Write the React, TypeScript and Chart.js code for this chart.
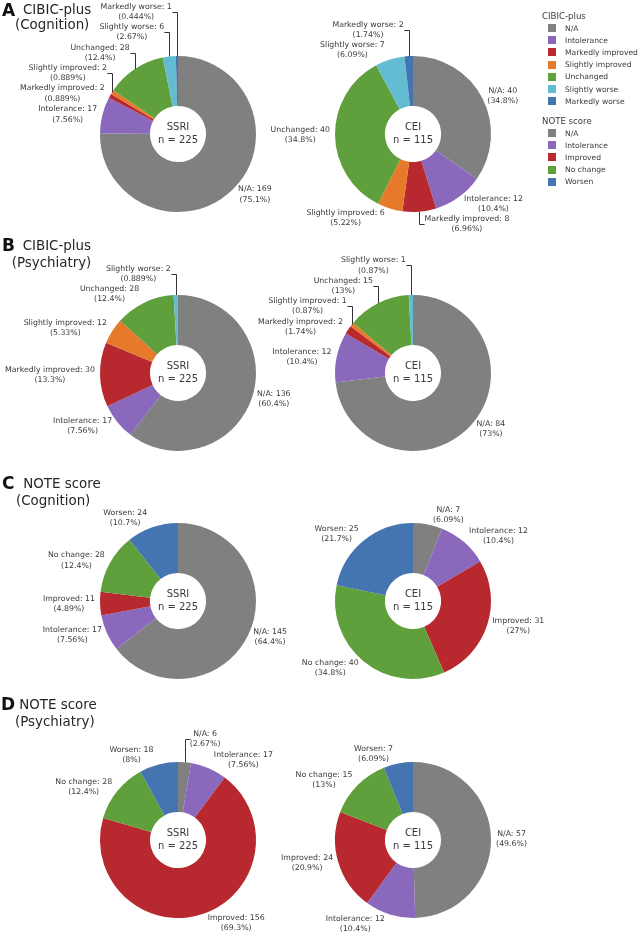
import React, { useEffect, useRef } from "react";
import { Chart, registerables } from "chart.js";

Chart.register(...registerables);

// ---------------- data ----------------
const cibicCategories = ["N/A", "Intolerance", "Markedly improved", "Slightly improved", "Unchanged", "Slightly worse", "Markedly worse"];
const noteCategories = ["N/A", "Intolerance", "Improved", "No change", "Worsen"];

const cibicColors = ["#808080", "#8a68bb", "#b8292f", "#e7792a", "#5f9f3c", "#63bdd2", "#4575b1"];
const noteColors = ["#808080", "#8a68bb", "#b8292f", "#5f9f3c", "#4575b1"];

const cibicCognitionSSRI = [169, 17, 2, 2, 28, 6, 1];
const cibicCognitionCEI = [40, 12, 8, 6, 40, 7, 2];
const cibicPsychiatrySSRI = [136, 17, 30, 12, 28, 2, 0];
const cibicPsychiatryCEI = [84, 12, 2, 1, 15, 1, 0];
const noteCognitionSSRI = [145, 17, 11, 28, 24];
const noteCognitionCEI = [7, 12, 31, 40, 25];
const notePsychiatrySSRI = [6, 17, 156, 28, 18];
const notePsychiatryCEI = [57, 12, 24, 15, 7];

const groupNames = ["SSRI", "CEI"];
const groupN = [225, 115];

const panelLetters = ["A", "B", "C", "D"];
const panelTitles = ["CIBIC-plus", "CIBIC-plus", "NOTE score", "NOTE score"];
const panelSubtitles = ["(Cognition)", "(Psychiatry)", "(Cognition)", "(Psychiatry)"];

const legendGroups = ["CIBIC-plus", "NOTE score"];

// ---------------- layout ----------------
const FONT = '"DejaVu Sans", Verdana, sans-serif';
const RADIUS = 78;
const CW = 356;
const CH = 262;
const CX = 178; // chart centre inside canvas
const CY = 132;
const colCenters = [178, 413];
const rowCenters = [134, 373, 601, 840];
const LABEL_SIZE = 7.8;
const LINE_H = 10.2;
const TEXT_COLOR = "#3a3a3a";

// title placement: [letterLeft, letterBaseline, line1Left, line1Baseline, line2Left, line2Baseline]
const titleLayout = [
  [2, 16.8, 23, 14, 15, 29.5],
  [2, 251, 22.7, 250.7, 11.7, 267.3],
  [2, 489.3, 23.3, 488.5, 16, 505],
  [1, 710.5, 19.3, 709.8, 15, 726],
];

function fmtPct(v: number): string {
  return String(parseFloat(v.toPrecision(3)));
}

type LabelPt = {
  px: number; py: number; x0: number; y0: number; lines: string[];
  w: number; h: number; cx: number; yMid: number; yMin: number; yMax: number; extraY: number;
};

const pieLabelPlugin = {
  id: "pieLabels",
  afterDatasetsDraw(chart: any, _args: any, opts: any) {
    const ctx: CanvasRenderingContext2D = chart.ctx;
    const meta = chart.getDatasetMeta(0);
    const values = chart.data.datasets[0].data as number[];
    const names = chart.data.labels as string[];
    const total = values.reduce((a, b) => a + b, 0);
    ctx.save();
    ctx.font = `${LABEL_SIZE}px ${FONT}`;
    const pts: LabelPt[] = [];
    meta.data.forEach((arc: any, i: number) => {
      const v = values[i];
      if (!v) return;
      const mid = (arc.startAngle + arc.endAngle) / 2;
      const R = arc.outerRadius;
      const px = R * Math.cos(mid);
      const py = R * Math.sin(mid);
      const lines = [`${names[i]}: ${v}`, `(${fmtPct((v / total) * 100)}%)`];
      const w = Math.max(...lines.map((l) => ctx.measureText(l).width));
      const h = LINE_H * 2;
      let dx = w / 2;
      let dy = h / 2;
      if (px < 0) dx = -dx;
      if (py < 0) dy = -dy;
      const tx = dx + (Math.abs(dy) * (dx > 0 ? 1 : -1)) / 2;
      const ty = py === 0 ? dy : dy / (1 + (px * px) / (py * py));
      const yMid = arc.y + py + ty;
      pts.push({
        px, py, x0: arc.x, y0: arc.y, lines, w, h,
        cx: arc.x + px + tx, yMid, yMin: yMid - h / 2, yMax: yMid + h / 2, extraY: 0,
      });
    });
    // plotly-style label scooting
    const quads: LabelPt[][][] = [[[], []], [[], []]];
    pts.forEach((p) => quads[p.py < 0 ? 0 : 1][p.px < 0 ? 0 : 1].push(p));
    for (let yHalf = 0; yHalf < 2; yHalf++) {
      for (let xHalf = 0; xHalf < 2; xHalf++) {
        const q = quads[yHalf][xHalf];
        q.sort(yHalf ? (a, b) => a.py - b.py : (a, b) => b.py - a.py);
        const opp = quads[1 - yHalf][xHalf];
        const firstOpp = yHalf && opp.length ? opp[0] : null;
        for (let k = 0; k < q.length; k++) {
          const prev = k ? q[k - 1] : firstOpp;
          if (!prev) continue;
          const prevOuter = prev.extraY + (yHalf ? prev.yMax : prev.yMin);
          const thisInner = yHalf ? q[k].yMin : q[k].yMax;
          const ne = prevOuter - thisInner;
          if (ne * (yHalf ? 1 : -1) > 0) q[k].extraY = ne;
        }
      }
    }
    ctx.fillStyle = TEXT_COLOR;
    ctx.strokeStyle = "#333";
    ctx.lineWidth = 1;
    ctx.textAlign = "center";
    ctx.textBaseline = "middle";
    pts.forEach((p) => {
      const yc = p.yMid + p.extraY;
      ctx.fillText(p.lines[0], p.cx, yc - LINE_H / 2);
      ctx.fillText(p.lines[1], p.cx, yc + LINE_H / 2);
      if (Math.abs(p.extraY) > 0.5) {
        const sx = Math.round(p.x0 + p.px) + 0.5;
        const ly = Math.round(yc) + 0.5;
        ctx.beginPath();
        ctx.moveTo(sx, p.y0 + p.py);
        ctx.lineTo(sx, ly);
        ctx.lineTo(sx + ((p.px < 0 ? -1 : 1) * p.h) / 4, ly);
        ctx.stroke();
      }
    });
    // centre text
    const a0 = meta.data[0];
    ctx.font = `10px ${FONT}`;
    ctx.fillStyle = "#3a3a3a";
    ctx.fillText(opts.group, a0.x, a0.y - 6.5);
    ctx.fillText(`n = ${opts.n}`, a0.x, a0.y + 6.5);
    ctx.restore();
  },
};

type PieProps = {
  values: number[]; names: string[]; colors: string[]; group: string; n: number; left: number; top: number;
};

function PieChart({ values, names, colors, group, n, left, top }: PieProps) {
  const ref = useRef<HTMLCanvasElement>(null);
  useEffect(() => {
    const chart = new Chart(ref.current as HTMLCanvasElement, {
      type: "doughnut",
      data: {
        labels: names,
        datasets: [{ data: values, backgroundColor: colors, borderWidth: 0, hoverOffset: 0, offset: 0 } as any],
      },
      options: {
        animation: false,
        responsive: false,
        maintainAspectRatio: false,
        devicePixelRatio: 1,
        events: [],
        cutout: "36%",
        rotation: 0,
        layout: {
          padding: { left: CX - RADIUS, right: CW - CX - RADIUS, top: CY - RADIUS, bottom: CH - CY - RADIUS },
        },
        plugins: {
          legend: { display: false },
          tooltip: { enabled: false },
          pieLabels: { group, n },
        } as any,
      },
      plugins: [pieLabelPlugin as any],
    });
    return () => chart.destroy();
  }, []);
  return (
    <canvas
      ref={ref}
      width={CW}
      height={CH}
      style={{ position: "absolute", left, top, width: CW, height: CH }}
    />
  );
}

function TextAt({ text, left, baseline, size, bold }: { text: string; left: number; baseline: number; size: number; bold?: boolean }) {
  return (
    <div
      style={{
        position: "absolute",
        left,
        top: baseline - 0.846 * size,
        fontSize: size,
        lineHeight: `${size}px`,
        fontWeight: bold ? "bold" : "normal",
        color: bold ? "#111" : "#262626",
        whiteSpace: "nowrap",
        fontFamily: FONT,
      }}
    >
      {text}
    </div>
  );
}

export default function App() {
  const panelData = [
    { values: [cibicCognitionSSRI, cibicCognitionCEI], names: cibicCategories, colors: cibicColors },
    { values: [cibicPsychiatrySSRI, cibicPsychiatryCEI], names: cibicCategories, colors: cibicColors },
    { values: [noteCognitionSSRI, noteCognitionCEI], names: noteCategories, colors: noteColors },
    { values: [notePsychiatrySSRI, notePsychiatryCEI], names: noteCategories, colors: noteColors },
  ];
  const legendItems = [
    { title: legendGroups[0], names: cibicCategories, colors: cibicColors, top: 16 },
    { title: legendGroups[1], names: noteCategories, colors: noteColors, top: 121 },
  ];
  return (
    <div
      style={{
        position: "absolute", left: 0, top: 0, width: 640, height: 937,
        background: "#fff", overflow: "hidden", fontFamily: FONT,
      }}
    >
      {panelData.map((p, r) =>
        [0, 1].map((c) => (
          <PieChart
            key={`${r}-${c}`}
            values={p.values[c]}
            names={p.names}
            colors={p.colors}
            group={groupNames[c]}
            n={groupN[c]}
            left={colCenters[c] - CX}
            top={rowCenters[r] - CY}
          />
        ))
      )}
      {panelLetters.map((L, r) => (
        <React.Fragment key={L}>
          <TextAt text={L} left={titleLayout[r][0]} baseline={titleLayout[r][1]} size={17} bold />
          <TextAt text={panelTitles[r]} left={titleLayout[r][2]} baseline={titleLayout[r][3]} size={13.4} />
          <TextAt text={panelSubtitles[r]} left={titleLayout[r][4]} baseline={titleLayout[r][5]} size={13.4} />
        </React.Fragment>
      ))}
      {legendItems.map((g) => (
        <div key={g.title} style={{ position: "absolute", left: 542, top: g.top - 7, fontFamily: FONT, color: TEXT_COLOR }}>
          <div style={{ height: 14, lineHeight: "14px", fontSize: 8.6 }}>{g.title}</div>
          {g.names.map((nm, i) => (
            <div key={nm} style={{ display: "flex", alignItems: "center", height: 12.2, fontSize: 7.6, marginTop: i === 0 ? -1 : 0 }}>
              <span style={{ display: "inline-block", width: 8, height: 8, background: g.colors[i], marginLeft: 6, marginRight: 9 }} />
              <span style={{ whiteSpace: "nowrap" }}>{nm}</span>
            </div>
          ))}
        </div>
      ))}
    </div>
  );
}
